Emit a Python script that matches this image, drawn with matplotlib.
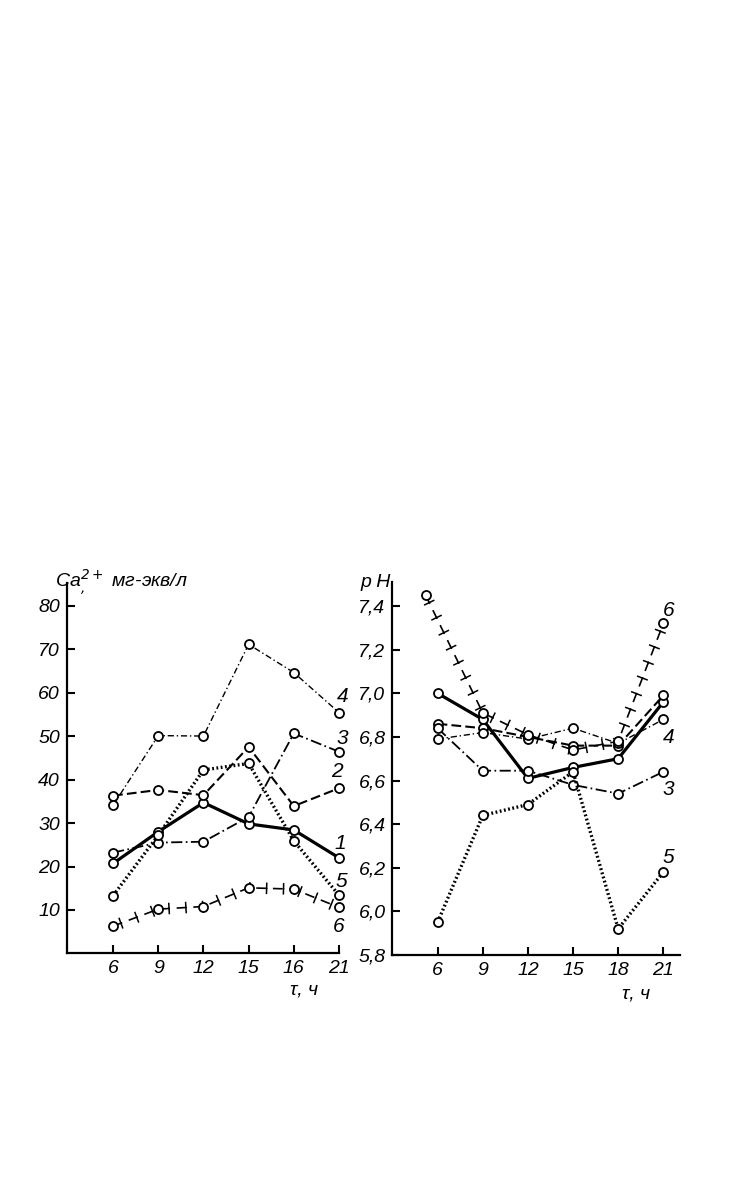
'''
Ca2+ and pH daily course, two panels
'''
import matplotlib
matplotlib.use('Agg')
import matplotlib.pyplot as plt
import matplotlib.patheffects as pe
import numpy as np

# left panel: Ca2+, mg-eq/l
ca_labels = ['6', '9', '12', '15', '16', '21']
ca1 = [20.7, 28.0, 34.7, 29.8, 28.4, 22.0]
ca2 = [36.3, 37.6, 36.4, 47.5, 33.9, 38.0]
ca3 = [23.2, 25.5, 25.7, 31.4, 50.6, 46.4]
ca4 = [34.1, 50.1, 50.0, 71.1, 64.6, 55.4]
ca5 = [13.3, 27.2, 42.2, 43.7, 25.9, 13.4]
ca6 = [6.3, 10.2, 10.8, 15.1, 14.8, 10.6]
ca_yticks = [10, 20, 30, 40, 50, 60, 70, 80]

# right panel: pH
ph_hours = [6, 9, 12, 15, 18, 21]
ph6_hours = [5.2, 9, 12, 15, 18, 21]
ph1 = [7.00, 6.88, 6.61, 6.66, 6.70, 6.96]
ph2 = [6.86, 6.84, 6.80, 6.76, 6.76, 6.99]
ph3 = [6.84, 6.645, 6.645, 6.58, 6.54, 6.64]
ph4 = [6.79, 6.82, 6.79, 6.84, 6.77, 6.88]
ph5 = [5.95, 6.44, 6.49, 6.64, 5.92, 6.18]
ph6 = [7.45, 6.91, 6.81, 6.74, 6.78, 7.32]
ph_yticks = [5.8, 6.0, 6.2, 6.4, 6.6, 6.8, 7.0, 7.2, 7.4]

plt.rcParams['font.family'] = ['DejaVu Sans Condensed', 'Liberation Sans Narrow',
                               'Liberation Sans', 'DejaVu Sans']
plt.rcParams['font.style'] = 'italic'
plt.rcParams['lines.scale_dashes'] = False

mk = dict(marker='o', ms=6.5, mfc='white', mec='black', mew=1.3,
          color='black', clip_on=False, zorder=3)

styles = {
    1: dict(ls='-', lw=2.3),
    2: dict(ls=(0, (7, 3)), lw=1.5),
    3: dict(ls=(0, (8, 2.5, 1.2, 2.5)), lw=1.3),
    4: dict(ls=(0, (4.5, 2, 1, 2)), lw=1.0),
    5: dict(ls=(0, (1.3, 1.8)), lw=2.4),
    6: dict(ls=(0, (7, 5)), lw=1.2),
}


def ticked(ax, x, y):
    '''draw the -|-|- line (series 6): dashed line plus crossing ticks'''
    ax.plot(x, y, **styles[6], **mk)
    ax.plot(x, y, color='black', lw=1.1, ls='-', clip_on=False, zorder=2,
            path_effects=[pe.TickedStroke(spacing=12, angle=90, length=0.3),
                          pe.TickedStroke(spacing=12, angle=-90, length=0.3)])


def style_axes(ax):
    for s in ['top', 'right']:
        ax.spines[s].set_visible(False)
    for s in ['left', 'bottom']:
        ax.spines[s].set_linewidth(1.6)
    ax.tick_params(direction='in', length=6, width=1.5, labelsize=14, pad=5)


fig = plt.figure(figsize=(7.35, 11.78), dpi=100)

# ---- left panel
ax1 = fig.add_axes([0.0912, 0.1906, 0.370, 0.3145])
pos = np.arange(len(ca_labels))
for n, ser in [(1, ca1), (2, ca2), (3, ca3), (4, ca4), (5, ca5)]:
    ax1.plot(pos, ser, **styles[n], **mk)
ticked(ax1, pos, ca6)
ax1.set_xlim(-1.02, 5)
ax1.set_ylim(0, 85.2)
ax1.set_xticks(pos)
ax1.set_xticklabels(ca_labels)
ax1.set_yticks(ca_yticks)
ax1.set_yticklabels([str(v) for v in ca_yticks])
style_axes(ax1)
ax1.text(-1.29, 84, r'Ca$^{2+}_{,}$ мг-экв/л', fontsize=14, ha='left', va='baseline')
ax1.text(3.92, -8.5, 'τ, ч', fontsize=14, ha='left', va='center')
for lab, xv, yv in [('4', 5.08, 59.0), ('3', 5.07, 49.5), ('2', 4.95, 41.8),
                    ('1', 5.03, 25.3), ('5', 5.05, 16.5), ('6', 5.0, 6.2)]:
    ax1.text(xv, yv, lab, fontsize=15, ha='center', va='center')

# ---- right panel
ax2 = fig.add_axes([0.534, 0.1893, 0.391, 0.3166])
for n, ser in [(1, ph1), (2, ph2), (3, ph3), (4, ph4), (5, ph5)]:
    ax2.plot(ph_hours, ser, **styles[n], **mk)
ticked(ax2, ph6_hours, ph6)
ax2.set_xlim(3.0, 22.1)
ax2.set_ylim(5.8, 7.51)
ax2.set_xticks(ph_hours)
ax2.set_xticklabels([str(h) for h in ph_hours])
ax2.set_yticks(ph_yticks)
ax2.set_yticklabels([('%.1f' % v).replace('.', ',') for v in ph_yticks])
style_axes(ax2)
ax2.text(0.9, 7.47, 'p H', fontsize=14, ha='left', va='bottom')
ax2.text(18.26, 5.62, 'τ, ч', fontsize=14, ha='left', va='center')
for lab, yv in [('6', 7.38), ('4', 6.795), ('3', 6.557), ('5', 6.245)]:
    ax2.text(21.35, yv, lab, fontsize=15, ha='center', va='center')

fig.savefig('out.png', dpi=100)
